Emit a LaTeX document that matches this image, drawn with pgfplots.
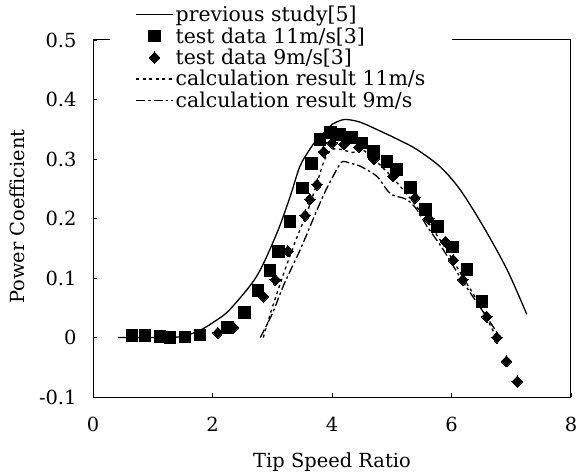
\documentclass[border=0pt]{standalone}
\usepackage{pgfplots}
\pgfplotsset{compat=1.18}
\usepackage{fontspec}
\setmainfont{DejaVu Serif}

\begin{document}
\begin{tikzpicture}
\useasboundingbox (0,0) rectangle (576bp,476bp);
\begin{axis}[
    at={(93bp,79bp)}, anchor=south west,
    scale only axis,
    width=478bp, height=357bp,
    xmin=0, xmax=8, ymin=-0.1, ymax=0.5,
    xtick={0,2,4,6,8},
    ytick={-0.1,0,0.1,0.2,0.3,0.4,0.5},
    tick pos=left,
    tick align=inside,
    major tick length=4bp,
    axis line style={line width=1bp},
    every tick/.style={black, line width=0.8bp},
    font=\fontsize{19.5}{21}\selectfont,
    /pgf/number format/assume math mode=true,
    yticklabel style={/pgf/number format/fixed, /pgf/number format/precision=1, xshift=-13bp},
    xticklabel style={yshift=-17bp},
    xlabel={Tip Speed Ratio},
    ylabel={Power Coefficient},
    xlabel style={at={(axis description cs:0.5,-0.182)}, anchor=center},
    ylabel style={at={(axis description cs:-0.159,0.505)}, anchor=center},
    legend style={
        at={(0.036,1.107)}, anchor=north west,
        draw=none, fill=white,
        font=\fontsize{20.5}{22}\selectfont,
        inner xsep=25bp, inner ysep=2bp,
        row sep=0.5bp,
        cells={anchor=west}
    },
    legend image code/.code={
        \draw[mark repeat=2, mark phase=2, #1]
            plot coordinates {(0bp,0bp) (18.5bp,0bp) (37bp,0bp)};
    },
]

% previous study
\addplot[black, line width=1.3bp, smooth, no marks] coordinates {
(0.42,0) (1.2,0) (1.5,0.002) (1.79,0.012) (2.05,0.028) (2.29,0.047)
(2.74,0.103) (3.08,0.176) (3.30,0.237) (3.46,0.287) (3.62,0.315)
(3.75,0.333) (3.9,0.348) (4.0,0.358) (4.18,0.366) (4.35,0.365)
(4.52,0.360) (4.85,0.345) (5.14,0.331) (5.42,0.316) (5.81,0.287)
(6.14,0.249) (6.53,0.187) (6.93,0.114) (7.26,0.039)
};
\addlegendentry{previous study[5]}

% test data 11 m/s
\addplot[only marks, mark=square*, mark size=5.8bp, black,
    mark options={line width=0pt}] coordinates {
(0.65,0.003) (0.87,0.003) (1.12,0.002) (1.29,0) (1.54,0.001) (1.79,0.004)
(2.25,0.017) (2.54,0.042) (2.76,0.079) (2.96,0.113) (3.10,0.145)
(3.30,0.195) (3.51,0.251) (3.66,0.292) (3.80,0.333) (3.97,0.345)
(4.13,0.341) (4.33,0.336) (4.50,0.327) (4.69,0.313) (4.92,0.296)
(5.08,0.282) (5.31,0.252) (5.56,0.215) (5.77,0.187) (6.02,0.152)
(6.26,0.114) (6.51,0.061)
};
\addlegendentry{test data 11m/s[3]}

% test data 9 m/s
\addplot[only marks, mark=diamond*, mark size=5.6bp, black,
    mark options={line width=0pt, xscale=1.25}] coordinates {
(2.09,0.008) (2.35,0.017) (2.85,0.069) (3.05,0.097) (3.26,0.145)
(3.55,0.205) (3.63,0.232) (3.75,0.257) (3.86,0.312) (4.0,0.327)
(4.2,0.325) (4.45,0.320) (4.7,0.300) (5.02,0.271) (5.39,0.235)
(5.62,0.200) (5.9,0.161) (6.03,0.130) (6.19,0.097) (6.59,0.035)
(6.76,0.0) (6.92,-0.040) (7.10,-0.074)
};
\addlegendentry{test data 9m/s[3]}

% calculation 11 m/s
\addplot[black, line width=1.3bp, smooth, no marks,
    dash pattern=on 3bp off 3.5bp] coordinates {
(2.85,0.0) (3.0,0.05) (3.2,0.11) (3.4,0.165) (3.6,0.215) (3.75,0.26)
(3.88,0.300) (4.0,0.316) (4.15,0.316) (4.35,0.311) (4.5,0.316)
(4.7,0.300) (5.0,0.270) (5.3,0.235) (5.6,0.195) (5.9,0.150)
(6.2,0.100) (6.5,0.050) (6.75,0.0)
};
\addlegendentry{calculation result 11m/s}

% calculation 9 m/s
\addplot[black, line width=1.3bp, smooth, no marks,
    dash pattern=on 9bp off 3bp on 2.5bp off 3bp] coordinates {
(2.8,0.0) (3.0,0.04) (3.2,0.09) (3.47,0.148) (3.68,0.198) (3.88,0.244)
(4.1,0.286) (4.18,0.296) (4.3,0.293) (4.47,0.288) (4.75,0.271)
(4.89,0.252) (5.0,0.240) (5.25,0.232) (5.42,0.215) (5.59,0.187)
(5.86,0.148) (6.19,0.094) (6.45,0.055) (6.73,0.013) (6.8,0.0)
};
\addlegendentry{calculation result 9m/s}

\end{axis}
\end{tikzpicture}
\end{document}
